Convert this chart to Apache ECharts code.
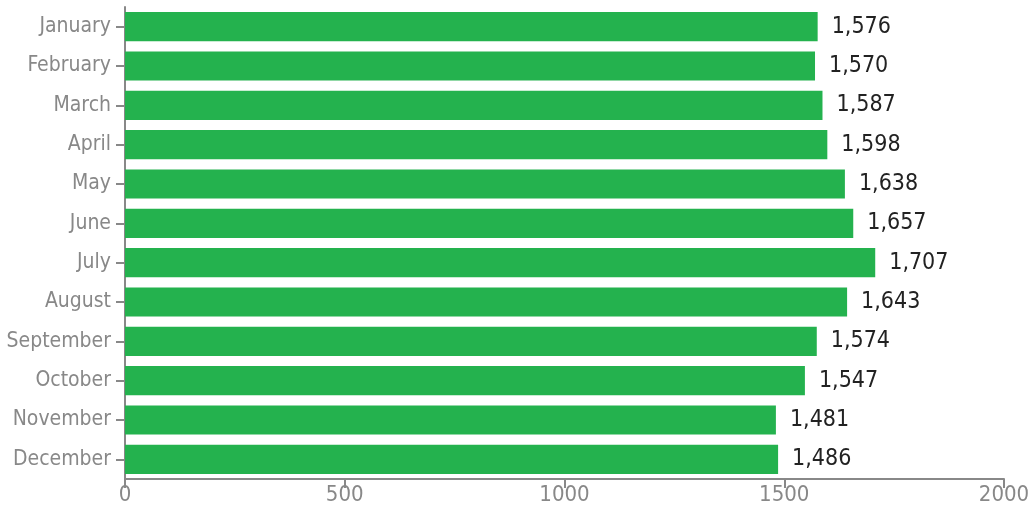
<!DOCTYPE html>
<html><head><meta charset="utf-8">
<script src="https://cdn.jsdelivr.net/npm/echarts@6/dist/echarts.min.js"></script>
<style>html,body{margin:0;padding:0;background:#fff}#c{width:1034px;height:514px}</style>
</head><body><div id="c"></div>
<script>
const categories = ["January","February","March","April","May","June","July","August","September","October","November","December"];
const values = [1576,1570,1587,1598,1638,1657,1707,1643,1574,1547,1481,1486];
const xTicks = [0,500,1000,1500,2000];
const FONT = "'Liberation Sans Narrow','DejaVu Sans Condensed','Roboto',sans-serif";
const chart = echarts.init(document.getElementById('c'));
chart.setOption({
  animation:false,
  grid:{left:125,right:30,top:7,bottom:35,containLabel:false},
  xAxis:{type:'value',min:xTicks[0],max:xTicks[xTicks.length-1],interval:500,
    axisLine:{show:true,lineStyle:{color:'#888',width:2}},
    axisTick:{show:true,length:9,lineStyle:{color:'#888',width:2}},
    splitLine:{show:false},
    axisLabel:{color:'#888',fontSize:22,fontFamily:FONT,margin:5,formatter:v=>String(v)}},
  yAxis:{type:'category',data:categories,inverse:true,
    axisLine:{show:true,lineStyle:{color:'#888',width:2}},
    axisTick:{show:true,length:9,alignWithLabel:true,lineStyle:{color:'#888',width:2}},
    axisLabel:{color:'#888',fontSize:21,fontFamily:FONT,margin:14}},
  series:[{type:'bar',data:values,barCategoryGap:'26%',
    itemStyle:{color:'#24b24e'},
    label:{show:true,position:'right',distance:14,color:'#222',fontSize:23,fontFamily:FONT,
      formatter:p=>p.value.toLocaleString('en-US')}}]
});
</script></body></html>
